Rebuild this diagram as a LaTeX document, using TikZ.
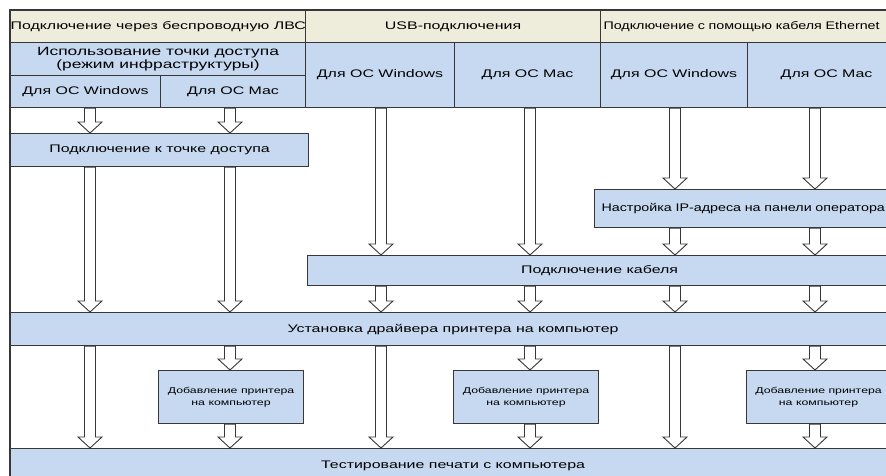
\documentclass[tikz,border=0pt]{standalone}
\usepackage{fontspec}
\setmainfont[FakeStretch=1.45]{Liberation Sans}
\newfontfamily\narrowfont[FakeStretch=1.3]{Liberation Sans}
\usepackage{tikz}
\usepackage{xcolor}
\usetikzlibrary{calc}

\definecolor{hdrbeige}{RGB}{238,236,219}
\definecolor{cellblue}{RGB}{198,217,241}
\definecolor{rimgray}{RGB}{55,55,55}

\tikzset{
  cell/.style={draw=rimgray,line width=1.1pt,fill=cellblue,anchor=north west,
    inner sep=0pt,align=center,font=\fontsize{11}{12}\selectfont},
  hdr/.style={cell,fill=hdrbeige},
  smalltxt/.style={font=\fontsize{8.5}{12}\selectfont},
  blk/.style={draw=rimgray,fill=white,line width=0.9pt,
    to path={let \p1=(\tikztostart),\p2=(\tikztotarget) in
      (\x1-5.5pt,\y1)--(\x1-5.5pt,\y2+11pt)--(\x1-12pt,\y2+11pt)--(\x1,\y2)
      --(\x1+12pt,\y2+11pt)--(\x1+5.5pt,\y2+11pt)--(\x1+5.5pt,\y1)--cycle}}
}

\begin{document}
\begin{tikzpicture}[x=1pt,y=-1pt]
\useasboundingbox (0,0) rectangle (886,475);
\clip (0,0) rectangle (886,475);
\fill[white] (0,0) rectangle (886,475);
\draw[rimgray,line width=1.1pt] (10,10) rectangle (895,490);
% header
\node[hdr,minimum width=295pt,minimum height=32pt] (wlan) at (10,10) {Подключение через беспроводную ЛВС};
\node[hdr,minimum width=295pt,minimum height=32pt] (usb) at (305,10) {USB-подключения};
\node[hdr,minimum width=305pt,minimum height=32pt,align=left,text width=299pt] (eth) at (600,10) {\narrowfont Подключение с помощью кабеля Ethernet};
\node[cell,minimum width=295pt,minimum height=33pt,font=\fontsize{12}{11}\selectfont] (infra) at (10,42) {Использование точки доступа\\(режим инфраструктуры)};
\node[cell,minimum width=150pt,minimum height=32pt] (wwin) at (10,75) {Для ОС Windows};
\node[cell,minimum width=145pt,minimum height=32pt] (wmac) at (160,75) {Для ОС Mac};
\node[cell,minimum width=149pt,minimum height=65pt] (uwin) at (305,42) {Для ОС Windows};
\node[cell,minimum width=146pt,minimum height=65pt] (umac) at (454,42) {Для ОС Mac};
\node[cell,minimum width=147pt,minimum height=65pt] (ewin) at (600,42) {Для ОС Windows};
\node[cell,minimum width=158pt,minimum height=65pt] (emac) at (747,42) {Для ОС Mac};
% steps
\node[cell,minimum width=298pt,minimum height=33pt] (ap) at (10,133) {Подключение к точке доступа};
\node[cell,minimum width=328pt,minimum height=38pt,align=left,text width=314pt] (ip) at (594,189) {\narrowfont Настройка IP-адреса на панели оператора};
\node[cell,minimum width=584pt,minimum height=30pt] (cable) at (307,255) {Подключение кабеля};
\node[cell,minimum width=885pt,minimum height=33pt] (driver) at (10,312) {Установка драйвера принтера на компьютер};
\node[cell,smalltxt,minimum width=145pt,minimum height=53pt] (add1) at (158,370) {Добавление принтера\\на компьютер};
\node[cell,smalltxt,minimum width=145pt,minimum height=53pt] (add2) at (453,370) {Добавление принтера\\на компьютер};
\node[cell,smalltxt,minimum width=144pt,minimum height=53pt] (add3) at (746,370) {Добавление принтера\\на компьютер};
\node[cell,minimum width=885pt,minimum height=35pt] (test) at (10,448) {Тестирование печати с компьютера};
% arrow columns
\coordinate (c1) at (90,0);
\coordinate (c2) at (230,0);
\coordinate (c3) at (381,0);
\coordinate (c4) at (530,0);
\coordinate (c5) at (675,0);
\coordinate (c6) at (815,0);
% wireless
\draw[blk] (c1 |- wwin.south) to (c1 |- ap.north);
\draw[blk] (c1 |- ap.south) to (c1 |- driver.north);
\draw[blk] (c1 |- driver.south) to (c1 |- test.north);
\draw[blk] (c2 |- wmac.south) to (c2 |- ap.north);
\draw[blk] (c2 |- ap.south) to (c2 |- driver.north);
\draw[blk] (c2 |- driver.south) to (c2 |- add1.north);
\draw[blk] (c2 |- add1.south) to (c2 |- test.north);
% usb
\draw[blk] (c3 |- uwin.south) to (c3 |- cable.north);
\draw[blk] (c3 |- cable.south) to (c3 |- driver.north);
\draw[blk] (c3 |- driver.south) to (c3 |- test.north);
\draw[blk] (c4 |- umac.south) to (c4 |- cable.north);
\draw[blk] (c4 |- cable.south) to (c4 |- driver.north);
\draw[blk] (c4 |- driver.south) to (c4 |- add2.north);
\draw[blk] (c4 |- add2.south) to (c4 |- test.north);
% ethernet
\draw[blk] (c5 |- ewin.south) to (c5 |- ip.north);
\draw[blk] (c5 |- ip.south) to (c5 |- cable.north);
\draw[blk] (c5 |- cable.south) to (c5 |- driver.north);
\draw[blk] (c5 |- driver.south) to (c5 |- test.north);
\draw[blk] (c6 |- emac.south) to (c6 |- ip.north);
\draw[blk] (c6 |- ip.south) to (c6 |- cable.north);
\draw[blk] (c6 |- cable.south) to (c6 |- driver.north);
\draw[blk] (c6 |- driver.south) to (c6 |- add3.north);
\draw[blk] (c6 |- add3.south) to (c6 |- test.north);
\end{tikzpicture}
\end{document}
